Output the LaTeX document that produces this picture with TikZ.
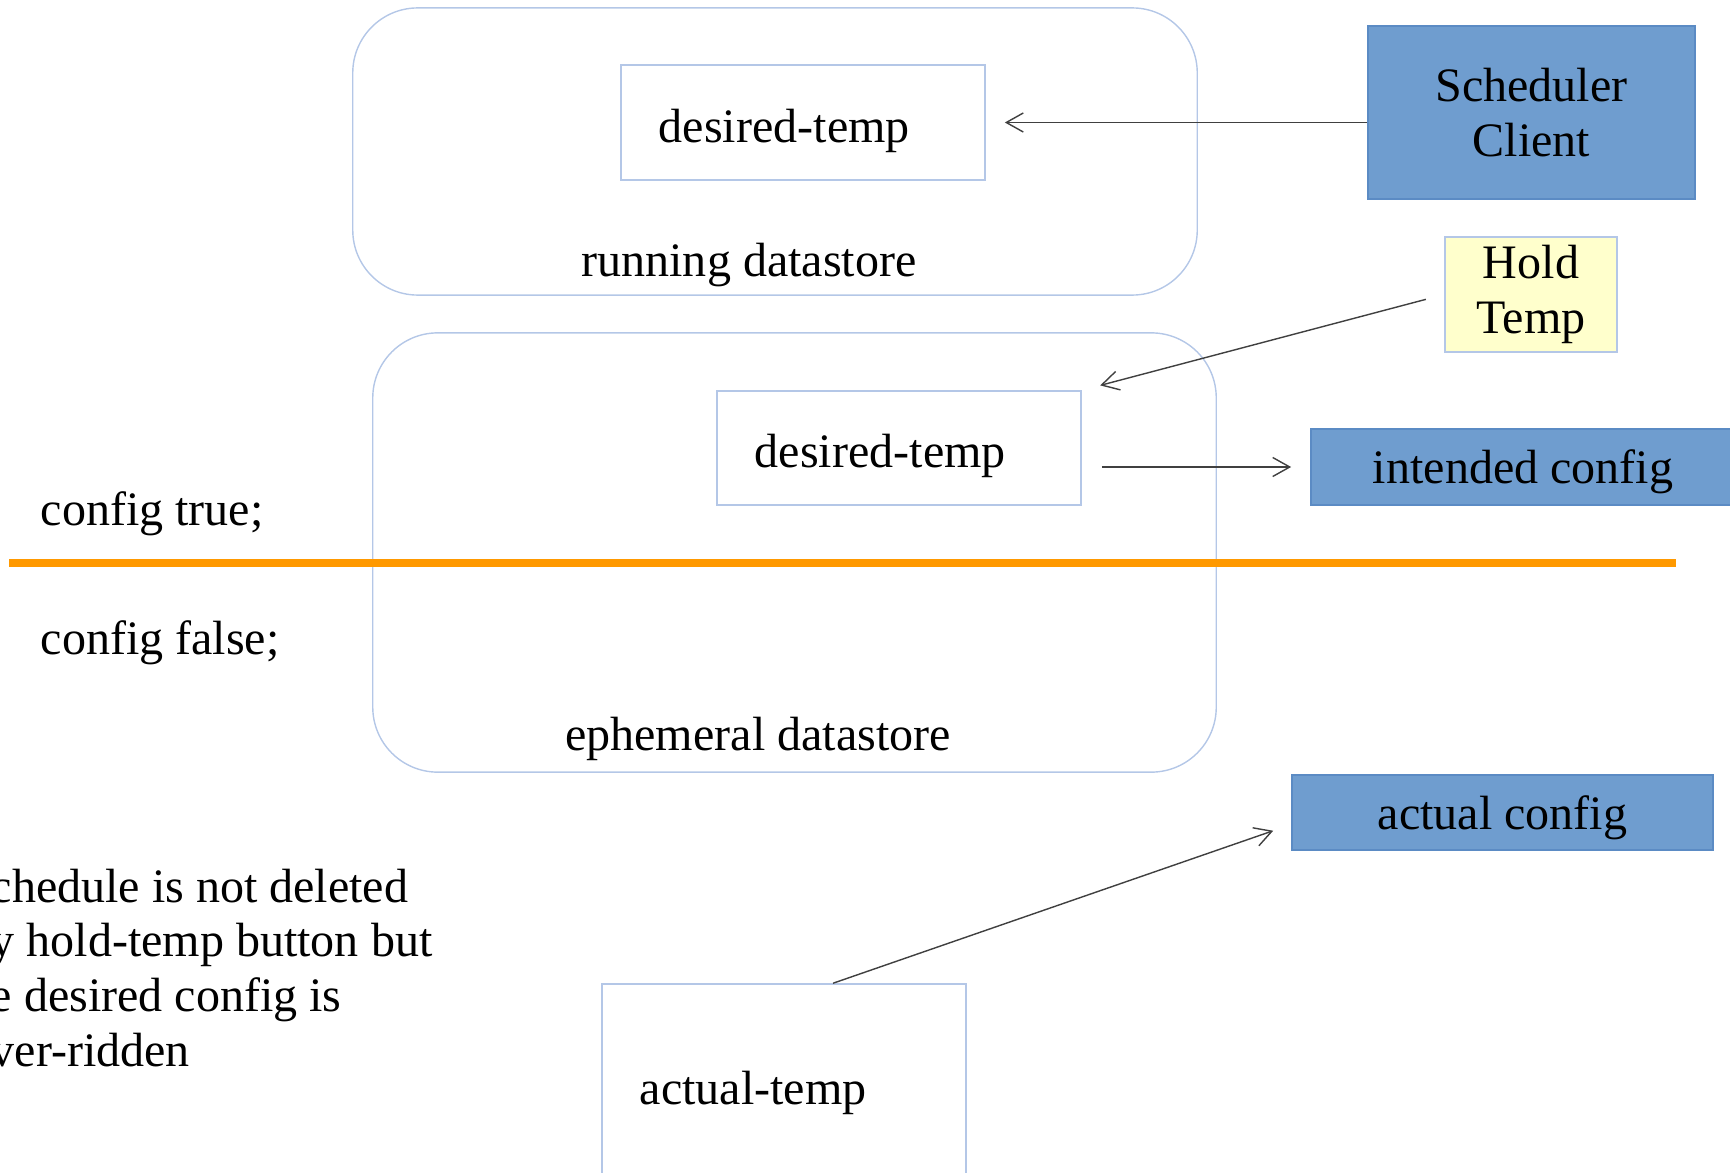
\documentclass[tikz,border=0pt]{standalone}
\usepackage{fontspec}
\setmainfont{Liberation Serif}
\usetikzlibrary{arrows.meta}
\usetikzlibrary{positioning}
\usetikzlibrary{calc}

\definecolor{boxblue}{HTML}{6F9DCF}
\definecolor{boxedge}{HTML}{5B8BC4}
\definecolor{paleedge}{HTML}{B4C7E7}
\definecolor{holdfill}{HTML}{FFFFCC}
\definecolor{divider}{HTML}{FF9900}

\begin{document}
\begin{tikzpicture}[x=0.01cm,y=-0.01cm,font=\fontsize{13.66}{15.6}\selectfont]
\tikzstyle{store} = [rectangle, draw=paleedge, thin, rounded corners=0.65cm]
\tikzstyle{field} = [rectangle, draw=paleedge, text width=2.88cm, inner xsep=0.38cm, inner ysep=0pt, align=left, text height=0.49cm, text depth=0.1cm]
\tikzstyle{block} = [rectangle, draw=boxedge, fill=boxblue, align=center, inner sep=0pt]
\tikzstyle{cfg} = [block, text height=0.43cm, text depth=0.1cm]
\tikzstyle{note} = [inner sep=0pt]
\tikzstyle{line} = [draw=black!75, -{Straight Barb[length=1.7mm,width=1.9mm]}, shorten >=0.19cm]

\useasboundingbox (0,0) rectangle (1730,1173);
\clip (0,0) rectangle (1730,1173);

% datastores
\node [store, minimum width=8.44cm, minimum height=2.87cm] (running) at (775,151.5) {};
\node [note] (runlabel) at (749,265) {running datastore};
\node [store, minimum width=8.43cm, minimum height=4.39cm] (ephemeral) at (794.5,552.5) {};
\node [note] (ephlabel) at (758,739) {ephemeral datastore};

% leaves
\node [field, minimum height=1.15cm] (desired1) at (803,122.5) {desired-temp};
\node [field, minimum height=1.14cm] (desired2) at (899,448) {desired-temp};
\node [field, minimum height=2.02cm] (actual) at (784,1085) {actual-temp};

% clients
\node [block, minimum width=3.27cm, minimum height=1.73cm] (sched) at (1531.5,112.5) {Scheduler\\Client};
\node [block, draw=paleedge, fill=holdfill, minimum width=1.72cm, minimum height=1.15cm] (hold) at (1531,294.5) {Hold\\Temp};
\node [cfg, minimum width=4.24cm, minimum height=0.76cm] (intended) at (1523,467) {intended config};
\node [cfg, minimum width=4.21cm, minimum height=0.75cm] (actualcfg) at (1502.5,812.5) {actual config};

% config split
\node [note, anchor=west] (cfgtrue) at (40,514) {config true;};
\node [note, anchor=west] (cfgfalse) at (40,643) {config false;};
\coordinate (splitL) at (9,563);
\coordinate (splitR) at (1676,563);
\draw [divider, line width=0.075cm] (splitL) -- (splitR);

% remark
\node [note, anchor=north west, align=left] (remark) at (-10,868) {chedule is not deleted\\y hold-temp button but\\e desired config is\\ver-ridden};

\draw [line] (sched.west |- desired1.east) -- (desired1.east);
\draw [line, shorten <=0.19cm] (hold.west) -- (desired2.north east);
\draw [line, shorten <=0.2cm] (desired2.east |- intended.west) -- (intended.west);
\draw [line] ([xshift=0.49cm]actual.north) -- ([yshift=-0.12cm]actualcfg.west);
\end{tikzpicture}
\end{document}
